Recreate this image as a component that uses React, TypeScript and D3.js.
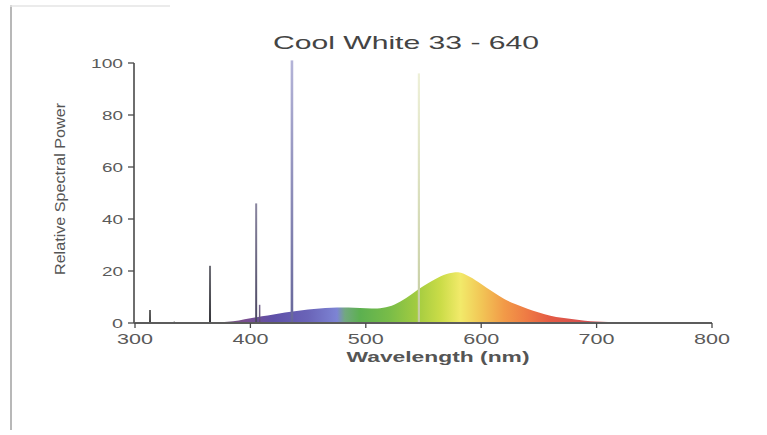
import React from "react";
import * as d3 from "d3";

const continuumWl = [360, 370, 380, 390, 400, 410, 420, 430, 440, 450, 460, 470, 480, 490, 500, 510, 520, 530, 540, 550, 560, 570, 580, 590, 600, 610, 620, 630, 640, 650, 660, 670, 680, 690, 700, 720, 750, 780, 800];
const continuumVal = [0, 0.2, 0.5, 1.0, 1.8, 2.6, 3.3, 4.0, 4.6, 5.2, 5.6, 5.9, 6.0, 5.9, 5.7, 5.6, 6.3, 8.3, 11.2, 14.2, 16.8, 18.8, 19.5, 17.8, 15.0, 12.0, 9.2, 7.2, 5.5, 4.0, 2.8, 2.0, 1.4, 0.9, 0.6, 0.3, 0.2, 0.1, 0];

const lineWl = [313, 334, 365, 405, 408, 436, 546];
const lineVal = [5, 0.6, 22, 46, 7, 101, 96];
const lineTop = ["#555555", "#777777", "#707078", "#8a86a0", "#7a6a90", "#b4b4d8", "#eef0d8"];
const lineBottom = ["#333333", "#555555", "#333338", "#4a4660", "#5a4a70", "#66669a", "#c4cca0"];
const lineWidths = [1.8, 1.2, 2, 2, 1.5, 2.6, 2.2];

const stopWl = [370, 395, 420, 450, 475, 482, 495, 520, 545, 565, 582, 600, 620, 640, 660, 690, 720];
const stopColor = ["#6a5a70", "#7a4e90", "#5e50a8", "#6a64b8", "#7d84d4", "#72a880", "#5cb050", "#78bc48", "#a4cc40", "#cbdc48", "#f2ea6a", "#f2c656", "#f29a48", "#ee7a44", "#e45a44", "#d45050", "#c06060"];

const xTicks = [300, 400, 500, 600, 700, 800];
const yTicks = [0, 20, 40, 60, 80, 100];

const title = "Cool White 33 - 640";
const xLabel = "Wavelength (nm)";
const yLabel = "Relative Spectral Power";

export default function App() {
  const W = 767, H = 435;
  const x = d3.scaleLinear().domain([300, 800]).range([135, 712]);
  const y = d3.scaleLinear().domain([0, 100]).range([323, 63]);

  const pts: [number, number][] = continuumWl.map((w, i) => [w, continuumVal[i]]);
  const area = d3.area<[number, number]>()
    .x(d => x(d[0]))
    .y0(y(0))
    .y1(d => y(d[1]))
    .curve(d3.curveMonotoneX);

  const font = "'Liberation Sans', Arial, sans-serif";
  const x0 = x(370), x1 = x(720);

  return (
    <svg width={W} height={H} style={{ position: "absolute", left: 0, top: 0, background: "#fff" }}>
      <defs>
        <linearGradient id="spec" gradientUnits="userSpaceOnUse" x1={x0} x2={x1} y1={0} y2={0}>
          {stopWl.map((w, i) => (
            <stop key={i} offset={(x(w) - x0) / (x1 - x0)} stopColor={stopColor[i]} />
          ))}
        </linearGradient>
        {lineWl.map((w, i) => (
          <linearGradient key={i} id={`lg${i}`} x1="0" x2="0" y1="0" y2="1">
            <stop offset="0" stopColor={lineTop[i]} />
            <stop offset="1" stopColor={lineBottom[i]} />
          </linearGradient>
        ))}
      </defs>
      <rect x={0} y={0} width={W} height={H} fill="#fff" />
      <line x1={11} x2={11} y1={5} y2={430} stroke="#b8b8b8" strokeWidth={2} />
      <line x1={10} x2={170} y1={6} y2={6} stroke="#e4e4e4" strokeWidth={1.5} />

      <text x={406} y={49} textAnchor="middle" fontFamily={font} fontSize={19} fill="#444"
        textLength={266} lengthAdjust="spacingAndGlyphs">{title}</text>

      <path d={area(pts) || ""} fill="url(#spec)" />

      {lineWl.map((w, i) => (
        <rect key={i} x={x(w) - lineWidths[i] / 2} width={lineWidths[i]} y={y(lineVal[i])}
          height={y(0) - y(lineVal[i])} fill={`url(#lg${i})`} />
      ))}

      <line x1={134} x2={134} y1={y(100)} y2={y(0)} stroke="#4a4a4a" strokeWidth={1.6} />
      {yTicks.map(t => (
        <g key={t}>
          <line x1={128} x2={134} y1={y(t)} y2={y(t)} stroke="#4a4a4a" strokeWidth={1.3} />
          <text x={123} y={y(t) + 5} textAnchor="end" fontFamily={font} fontSize={13.5} fill="#5a5a5a"
            textLength={t === 100 ? 32 : t === 0 ? 11 : 21} lengthAdjust="spacingAndGlyphs">{t}</text>
        </g>
      ))}

      <line x1={134} x2={x(800)} y1={y(0)} y2={y(0)} stroke="#5c5c5c" strokeWidth={1.8} />
      {xTicks.map(t => (
        <g key={t}>
          <line x1={x(t)} x2={x(t)} y1={y(0)} y2={y(0) + 5} stroke="#4a4a4a" strokeWidth={1.3} />
          <text x={x(t)} y={y(0) + 21} textAnchor="middle" fontFamily={font} fontSize={14} fill="#5a5a5a"
            textLength={36} lengthAdjust="spacingAndGlyphs">{t}</text>
        </g>
      ))}

      <text x={438} y={362} textAnchor="middle" fontFamily={font} fontSize={14} fontWeight="bold" fill="#555"
        textLength={183} lengthAdjust="spacingAndGlyphs">{xLabel}</text>
      <text transform={`translate(65,189) rotate(-90)`} textAnchor="middle" fontFamily={font} fontSize={14} fill="#555"
        textLength={172} lengthAdjust="spacingAndGlyphs">{yLabel}</text>
    </svg>
  );
}
